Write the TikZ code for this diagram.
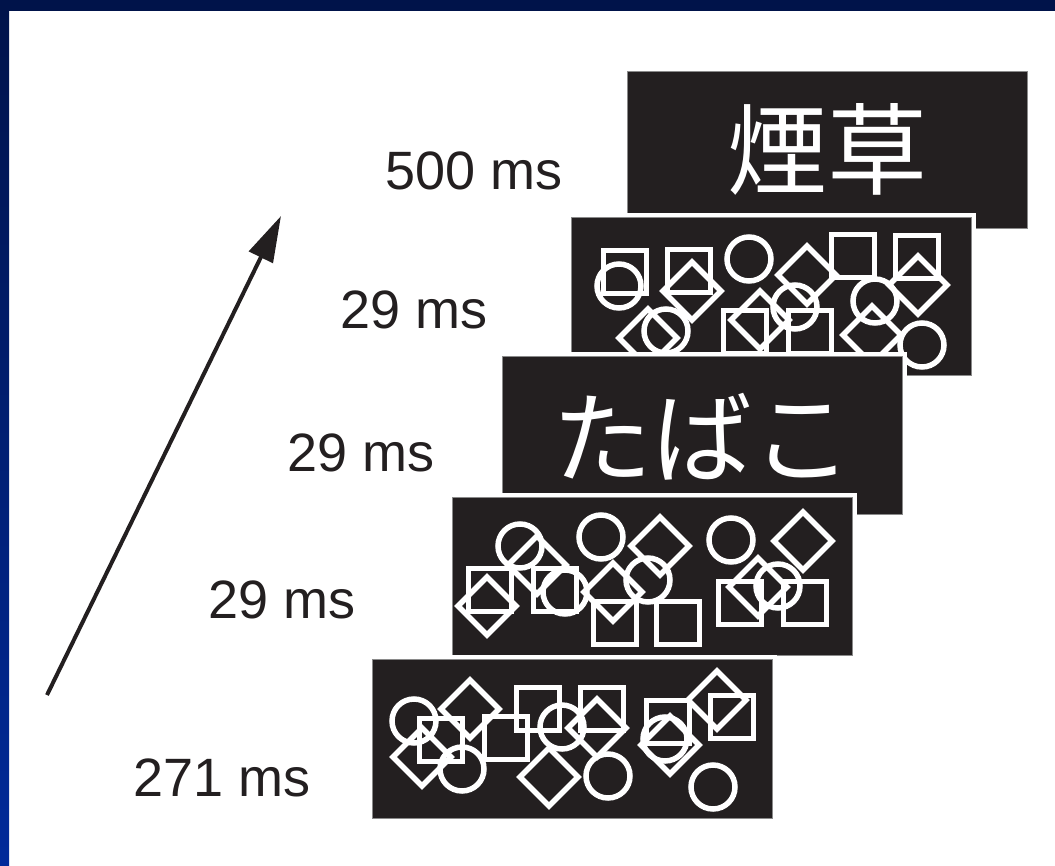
\documentclass[tikz,border=0pt]{standalone}
\usepackage{fontspec}
\setmainfont{Liberation Sans}
\newfontfamily\cjk{Noto Sans CJK JP}
\usetikzlibrary{arrows.meta}
\definecolor{ink}{HTML}{231F20}
\definecolor{navy}{HTML}{00134A}
\definecolor{navyb}{HTML}{002A9A}
\definecolor{edge}{HTML}{8A8A8A}
\newcommand{\mysq}[2]{\draw[shp] ({#1-21.5},{#2-21.5}) rectangle ++(43,43);}
\newcommand{\myci}[2]{\draw[shp] (#1,#2) circle[radius=22];}
\newcommand{\mydi}[2]{\draw[shp] (#1,{#2-29}) -- ({#1+29},#2) -- (#1,{#2+29}) -- ({#1-29},#2) -- cycle;}
\begin{document}
\begin{tikzpicture}[x=1pt,y=-1pt,
  panel/.style={draw=edge, line width=0.8pt, fill=ink, minimum width=400pt, minimum height=157pt, inner sep=0pt, outer sep=0pt,
    preaction={draw=white, line width=9pt}},
  shp/.style={draw=white, line width=5.5pt},
  lbl/.style={anchor=base west, text=ink, font=\fontsize{54}{60}\selectfont, inner sep=0pt},
  word/.style={text=white, font=\cjk\fontsize{100}{110}\selectfont, inner sep=0pt}]
\useasboundingbox (0,0) rectangle (1055,865);
\fill[white] (0,0) rectangle (1055,865);
% frame
\shade[top color=navy, bottom color=navyb] (0,0) rectangle (9,865);
\fill[navy] (0,0) rectangle (1055,11);

% panel 1
\node[panel] (p1) at (827,149.5) {};
\node[word] (w1) at (827,149.5) {煙草};

% panel 2
\node[panel, minimum height=158pt] (p2) at (771.5,296) {};
\begin{scope}
\clip (p2.south west) rectangle (p2.north east);
\mysq{625}{272}\mysq{689}{271}\mysq{853}{256}\mysq{917}{257}\mysq{745}{332}\mysq{810}{332}
\myci{619}{286}\myci{666}{331}\myci{749}{259}\myci{795}{307}\myci{875}{301}\myci{922}{345}
\mydi{648}{338}\mydi{692}{291}\mydi{807}{275}\mydi{760}{320}\mydi{918}{285}\mydi{872}{335}
\end{scope}

% panel 3
\node[panel, minimum height=158pt] (p3) at (702.5,435) {};
\node[word] (w3) at (702.5,437) {たばこ};

% panel 4
\node[panel, minimum height=158pt] (p4) at (652.5,576) {};
\begin{scope}
\clip (p4.south west) rectangle (p4.north east);
\mysq{490}{590}\mysq{555}{590}\mysq{615}{623}\mysq{678}{623}\mysq{740}{603}\mysq{805}{603}
\myci{520}{546}\myci{601}{537}\myci{565}{592}\myci{648}{580}\myci{731}{540}\myci{778}{586}
\mydi{487}{606}\mydi{537}{565}\mydi{660}{546}\mydi{613}{592}\mydi{803}{541}\mydi{758}{587}
\end{scope}

% panel 5
\node[panel, minimum height=159pt] (p5) at (572.5,738.5) {};
\begin{scope}
\clip (p5.south west) rectangle (p5.north east);
\mysq{441}{740}\mysq{506}{738}\mysq{538}{709}\mysq{602}{709}\mysq{668}{722}\mysq{732}{717}
\myci{414}{721}\myci{462}{769}\myci{562}{727}\myci{608}{776}\myci{665}{739}\myci{713}{787}
\mydi{470}{709}\mydi{422}{757}\mydi{549}{777}\mydi{597}{728}\mydi{670}{745}\mydi{717}{700}
\end{scope}

% labels
\node[lbl] (t1) at (385,189) {500 ms};
\node[lbl] (t2) at (340,328) {29 ms};
\node[lbl] (t3) at (287,471) {29 ms};
\node[lbl] (t4) at (208,618) {29 ms};
\node[lbl] (t5) at (133,796) {271 ms};

% arrow
\coordinate (a0) at (47,695);
\coordinate (a1) at (281,216);
\draw[ink, line width=4pt, -{Triangle[length=46pt, width=26pt]}] (a0) -- (a1);
\end{tikzpicture}
\end{document}
